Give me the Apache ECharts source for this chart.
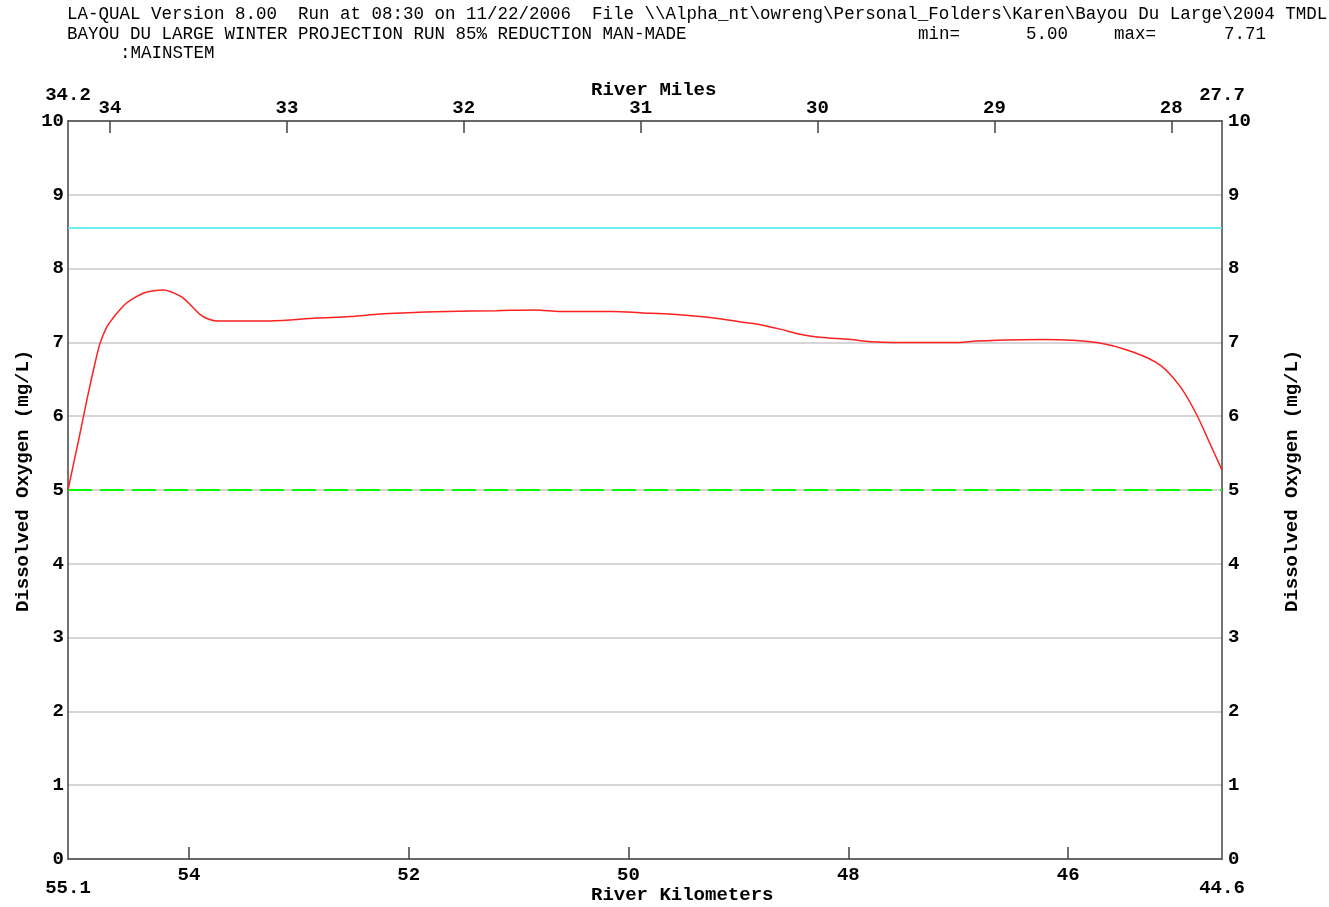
<!DOCTYPE html>
<html>
<head>
<meta charset="utf-8">
<script src="https://cdn.jsdelivr.net/npm/echarts@6/dist/echarts.min.js"></script>
<style>
html,body{margin:0;padding:0;background:#fff;}
#c{width:1329px;height:907px;}
</style>
</head>
<body>
<div id="c"></div>
<script>
// ---- data ----
const kmMin = 44.6, kmMax = 55.1;
const KM_PER_MILE = 1.609344;
const kmTicks = [46, 48, 50, 52, 54];
const mileTicks = [28, 29, 30, 31, 32, 33, 34];
const kmEndLabels = [44.6, 55.1];
const doKm = [55.10, 55.00, 54.92, 54.86, 54.81, 54.75, 54.69, 54.63, 54.57, 54.49, 54.41, 54.32, 54.23, 54.17, 54.06, 53.96, 53.90, 53.83, 53.75, 53.26, 52.84, 52.53, 52.26, 52.05, 51.65, 51.20, 50.85, 50.62, 50.15, 49.87, 49.60, 49.35, 49.17, 48.99, 48.80, 48.62, 48.44, 48.26, 47.98, 47.80, 47.53, 47.00, 46.83, 46.23, 45.74, 45.41, 45.16, 44.98, 44.83, 44.71, 44.60];
const doVal = [5.00, 5.70, 6.28, 6.68, 6.98, 7.20, 7.33, 7.44, 7.53, 7.61, 7.67, 7.70, 7.71, 7.69, 7.61, 7.47, 7.38, 7.32, 7.29, 7.29, 7.33, 7.35, 7.385, 7.40, 7.42, 7.43, 7.44, 7.42, 7.42, 7.40, 7.38, 7.35, 7.32, 7.28, 7.24, 7.18, 7.11, 7.07, 7.04, 7.01, 7.00, 7.00, 7.02, 7.04, 7.00, 6.87, 6.69, 6.40, 6.02, 5.63, 5.27];
const upperLineVal = 8.55;   // cyan
const standardVal = 5.0;     // green dashed
const titleLine1 = 'LA-QUAL Version 8.00  Run at 08:30 on 11/22/2006  File \\\\Alpha_nt\\owreng\\Personal_Folders\\Karen\\Bayou Du Large\\2004 TMDL';
const titleLine2 = 'BAYOU DU LARGE WINTER PROJECTION RUN 85% REDUCTION MAN-MADE';
const titleLine3 = ':MAINSTEM';
const minText = 'min=', minVal = '5.00', maxText = 'max=', maxVal = '7.71';

// ---- chart ----
const FONT = '"Liberation Mono", "Courier New", monospace';
const lblStyle = {fontFamily: FONT, fontWeight: 'bold', fontSize: 19, color: '#000'};
const axisLineStyle = {color: '#444', width: 1.5};

const chart = echarts.init(document.getElementById('c'), null, {renderer: 'canvas'});
const lineData = doKm.map((k, i) => [k, doVal[i]]);

function fmtNum(v){ return (Math.round(v*10)/10).toString(); }

const option = {
  backgroundColor: '#fff',
  animation: false,
  grid: {left: 68, right: 107, top: 121, bottom: 48, containLabel: false},
  xAxis: [
    { // km bottom
      type: 'value', position: 'bottom', min: kmMin, max: kmMax, inverse: true,
      axisLine: {show: true, onZero: false, lineStyle: axisLineStyle},
      axisTick: {show: true, inside: true, length: 12, customValues: kmTicks, lineStyle: {color: '#444', width: 1.5}},
      axisLabel: Object.assign({customValues: kmTicks, margin: 7, formatter: v => String(v)}, lblStyle),
      splitLine: {show: false}
    },
    { // miles top
      type: 'value', position: 'top', min: kmMin / KM_PER_MILE, max: kmMax / KM_PER_MILE, inverse: true,
      axisLine: {show: true, onZero: false, lineStyle: axisLineStyle},
      axisTick: {show: true, inside: true, length: 12, customValues: mileTicks, lineStyle: {color: '#444', width: 1.5}},
      axisLabel: Object.assign({customValues: mileTicks, margin: 3, formatter: v => String(v)}, lblStyle),
      splitLine: {show: false}
    },
    { // km end labels
      type: 'value', position: 'bottom', offset: 12, min: kmMin, max: kmMax, inverse: true,
      axisLine: {show: false, onZero: false}, axisTick: {show: false}, splitLine: {show: false},
      axisLabel: Object.assign({customValues: kmEndLabels, margin: 8, formatter: v => fmtNum(v)}, lblStyle)
    },
    { // mile end labels
      type: 'value', position: 'top', offset: 13, min: kmMin / KM_PER_MILE, max: kmMax / KM_PER_MILE, inverse: true,
      axisLine: {show: false, onZero: false}, axisTick: {show: false}, splitLine: {show: false},
      axisLabel: Object.assign({customValues: [kmMin / KM_PER_MILE, kmMax / KM_PER_MILE], margin: 3,
        formatter: v => fmtNum(v)}, lblStyle)
    }
  ],
  yAxis: [
    {
      type: 'value', position: 'left', min: 0, max: 10, interval: 1,
      axisLine: {show: true, onZero: false, lineStyle: axisLineStyle},
      axisTick: {show: false},
      axisLabel: Object.assign({margin: 4}, lblStyle),
      splitLine: {show: true, lineStyle: {color: '#c8c8c8', width: 1.5}}
    },
    {
      type: 'value', position: 'right', min: 0, max: 10, interval: 1,
      axisLine: {show: true, onZero: false, lineStyle: axisLineStyle},
      axisTick: {show: false},
      axisLabel: Object.assign({margin: 6}, lblStyle),
      splitLine: {show: false}
    }
  ],
  series: [
    {
      type: 'line', xAxisIndex: 0, yAxisIndex: 0, data: [[kmMax, upperLineVal], [kmMin, upperLineVal]],
      symbol: 'none', lineStyle: {color: '#40e8f0', width: 1.5}, silent: true, z: 3
    },
    {
      type: 'line', xAxisIndex: 0, yAxisIndex: 0, data: [[kmMax, standardVal], [kmMin, standardVal]],
      symbol: 'none', lineStyle: {color: '#00ff00', width: 2, type: [24, 8]}, silent: true, z: 3
    },
    {
      type: 'line', xAxisIndex: 0, yAxisIndex: 0, data: lineData,
      symbol: 'none', smooth: 0.3, lineStyle: {color: '#ff2020', width: 1.5}, z: 4
    }
  ],
  graphic: [
    {type: 'text', left: 67, top: 5, style: {text: titleLine1, font: '17.5px ' + FONT, fill: '#000'}},
    {type: 'text', left: 67, top: 25, style: {text: titleLine2, font: '17.5px ' + FONT, fill: '#000'}},
    {type: 'text', left: 120, top: 44, style: {text: titleLine3, font: '17.5px ' + FONT, fill: '#000'}},
    {type: 'text', left: 918, top: 25, style: {text: minText, font: '17.5px ' + FONT, fill: '#000'}},
    {type: 'text', left: 1026, top: 25, style: {text: minVal, font: '17.5px ' + FONT, fill: '#000'}},
    {type: 'text', left: 1114, top: 25, style: {text: maxText, font: '17.5px ' + FONT, fill: '#000'}},
    {type: 'text', left: 1224, top: 25, style: {text: maxVal, font: '17.5px ' + FONT, fill: '#000'}},
    {type: 'text', left: 591, top: 81, style: {text: 'River Miles', font: 'bold 19px ' + FONT, fill: '#000'}},
    {type: 'text', left: 591, top: 886, style: {text: 'River Kilometers', font: 'bold 19px ' + FONT, fill: '#000'}},
    {type: 'text', x: 14, y: 612, rotation: Math.PI / 2,
     style: {text: 'Dissolved Oxygen (mg/L)', font: 'bold 19px ' + FONT, fill: '#000', align: 'left', verticalAlign: 'top'}},
    {type: 'text', x: 1283, y: 612, rotation: Math.PI / 2,
     style: {text: 'Dissolved Oxygen (mg/L)', font: 'bold 19px ' + FONT, fill: '#000', align: 'left', verticalAlign: 'top'}}
  ]
};
chart.setOption(option);
</script>
</body>
</html>
